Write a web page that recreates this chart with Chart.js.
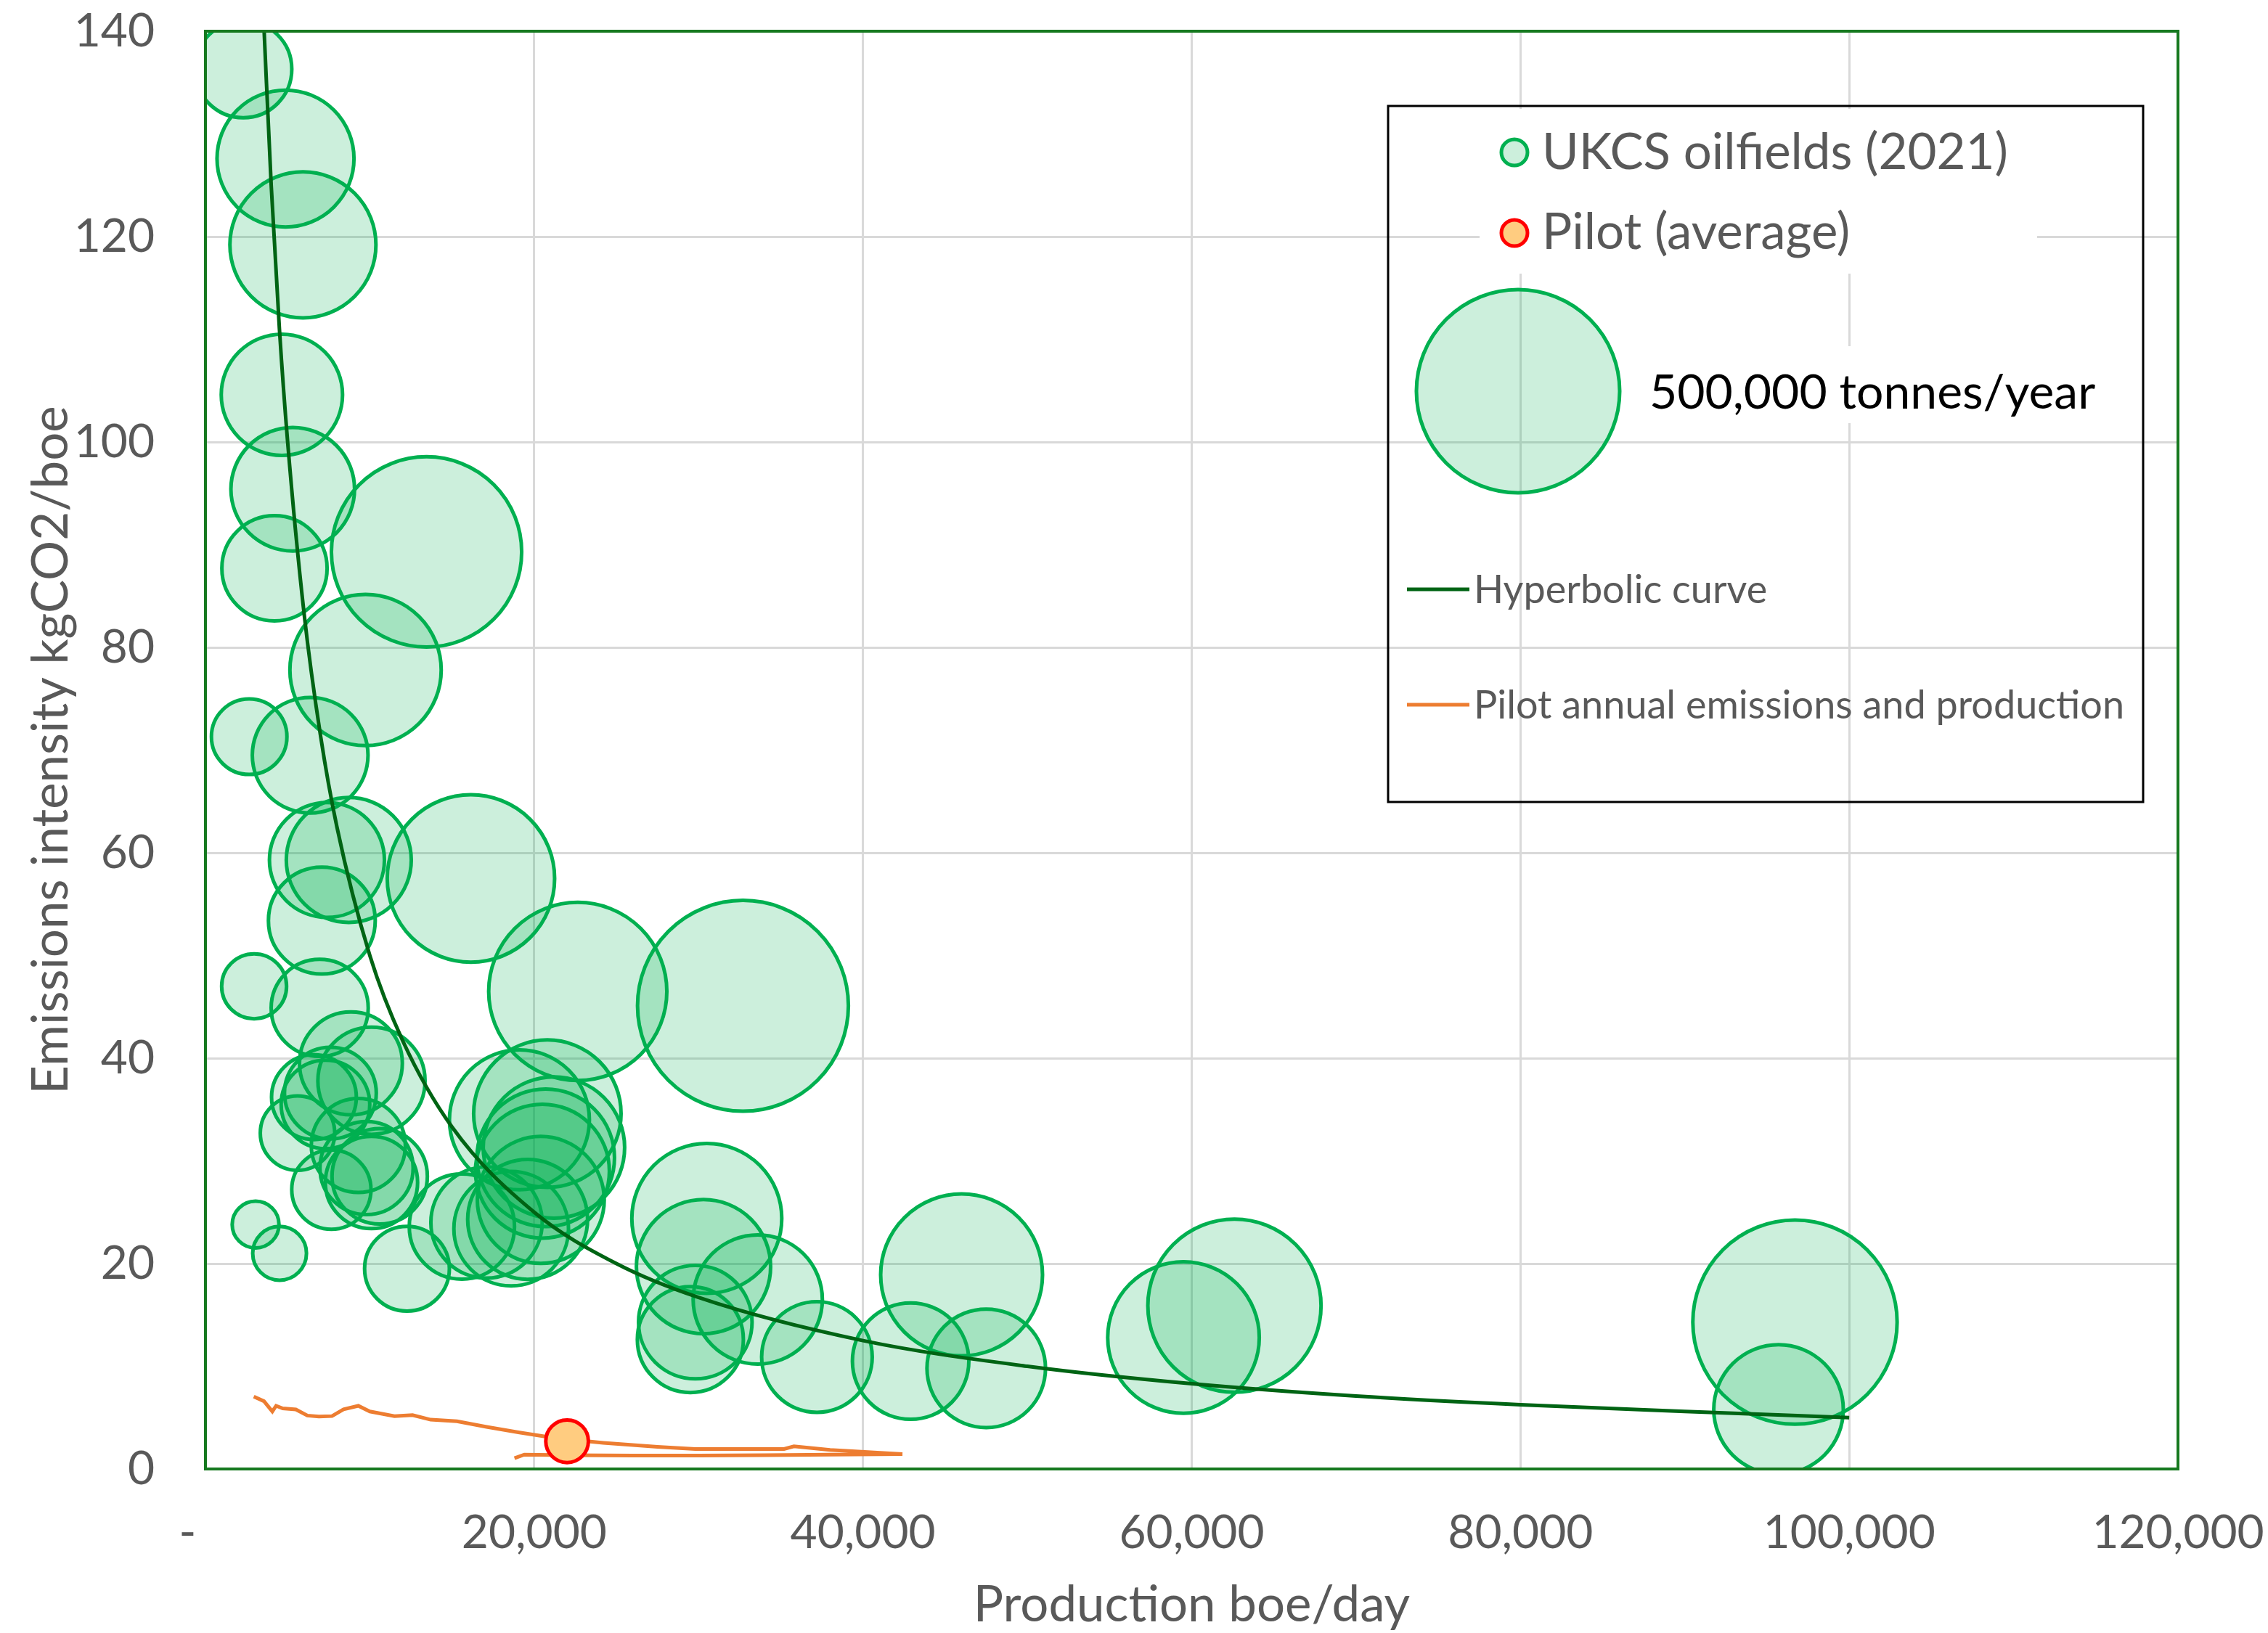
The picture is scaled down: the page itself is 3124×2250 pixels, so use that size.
<!DOCTYPE html>
<html>
<head>
<meta charset="utf-8">
<script src="https://cdn.jsdelivr.net/npm/chart.js@4.4.1/dist/chart.umd.min.js"></script>
<style>
html, body { margin: 0; padding: 0; background: #fff; }
#wrap { width: 3124px; height: 2250px; }
</style>
</head>
<body>
<div id="wrap"><canvas id="bubbleChart" width="3124" height="2250"></canvas></div>
<script>
// UKCS oilfields 2021: production (boe/day), intensity (kgCO2/boe), emissions (kt CO2/yr, bubble size)
var fieldProduction = [2300, 4870, 5930, 4650, 5310, 4200, 13450, 9740, 2660, 6370,
    7390, 8720, 7080, 16150, 2960, 6950, 22650, 32700, 8850, 10100,
    6600, 7600, 7300, 5600, 9300, 9800, 10100, 7660, 10600, 3050,
    4510, 12260, 15600, 17100, 18600, 19600, 19100, 20800, 21200, 20700,
    20400, 20500, 30500, 30300, 29800, 29500, 33600, 37200, 42900, 46000,
    47500, 59500, 62600, 96700, 95700];
var fieldIntensity = [136.3, 127.6, 119.2, 104.6, 95.4, 87.7, 89.3, 77.8, 71.3, 69.5,
    59.3, 59.3, 53.4, 57.5, 47.0, 44.9, 46.5, 45.1, 39.5, 37.8,
    36.2, 36.6, 35.5, 32.7, 31.5, 29.3, 27.9, 27.2, 28.5, 23.8,
    21.0, 19.5, 23.6, 24.0, 23.4, 24.3, 34.0, 34.6, 31.3, 30.3,
    26.2, 29.0, 24.4, 19.7, 14.3, 12.6, 16.5, 10.9, 10.5, 18.9,
    9.8, 12.8, 15.9, 14.3, 5.8];
var fieldEmissions = [114, 227, 258, 178, 185, 134, 438, 277, 69, 162,
    160, 189, 138, 339, 51, 114, 384, 538, 128, 139,
    87, 102, 95, 67, 107, 105, 103, 76, 110, 26.5,
    35, 87, 134, 150, 159, 174, 237, 263, 242, 229,
    195, 217, 272, 218, 156, 136, 202, 148, 164, 317,
    170, 278, 363, 505, 203];

// Pilot average
var pilotAvgProduction = [22000];
var pilotAvgIntensity = [2.7];
var pilotAvgEmissions = [22];

// Pilot annual emissions and production path
var pilotProduction = [18800, 19400, 22000, 26000, 30000, 34000, 38000, 42400, 38000, 35800,
    35200, 32000, 29800, 27500, 24200, 21300, 19100, 17100, 15300, 13700,
    12600, 11500, 10000, 9300, 8400, 7700, 6900, 6200, 5500, 4700,
    4300, 4070, 3560, 2940];
var pilotIntensity = [1.05, 1.4, 1.35, 1.3, 1.3, 1.35, 1.4, 1.45, 1.85, 2.2,
    1.95, 1.95, 1.95, 2.15, 2.55, 3.0, 3.55, 4.1, 4.65, 4.8,
    5.25, 5.15, 5.6, 6.15, 5.8, 5.15, 5.1, 5.2, 5.8, 5.9,
    6.15, 5.6, 6.6, 7.05];

// Hyperbolic curve
var curveProduction = [3570, 4000, 4500, 5000, 6000, 7000, 8000, 10000, 12000, 15000,
    20000, 25000, 30000, 40000, 50000, 60000, 70000, 80000, 90000, 100000];
var curveIntensity = [140, 125, 111, 100, 83.3, 71.4, 62.5, 50, 41.7, 33.3,
    25, 20, 16.7, 12.5, 10, 8.3, 7.1, 6.25, 5.6, 5];

var xTicks = [0, 20000, 40000, 60000, 80000, 100000, 120000];
var yTicks = [0, 20, 40, 60, 80, 100, 120, 140];

var legendBubbleKt = 500;

function bubbleRadius(kt) {
    return 140 * Math.sqrt(kt / legendBubbleKt);
}

function toBubbles(xs, ys, ks) {
    return xs.map(function (x, i) { return { x: x, y: ys[i], r: bubbleRadius(ks[i]) }; });
}

function toPoints(xs, ys) {
    return xs.map(function (x, i) { return { x: x, y: ys[i] }; });
}

var grey = '#595959';
var font = 'Lato';

var plotBorder = {
    id: 'plotBorder',
    afterDatasetsDraw: function (chart) {
        var a = chart.chartArea, ctx = chart.ctx;
        ctx.save();
        ctx.strokeStyle = '#16791f';
        ctx.lineWidth = 4;
        ctx.strokeRect(a.left, a.top, a.right - a.left, a.bottom - a.top);
        ctx.restore();
    }
};

var boxLegend = {
    id: 'boxLegend',
    afterDraw: function (chart) {
        var ctx = chart.ctx;
        ctx.save();
        // white patches behind the upper entries
        ctx.fillStyle = '#ffffff';
        ctx.fillRect(2038, 150, 768, 227);
        ctx.fillRect(2262, 477, 640, 106);

        ctx.strokeStyle = '#000000';
        ctx.lineWidth = 3;
        ctx.strokeRect(1912, 146, 1040, 959);

        // markers
        ctx.lineWidth = 5;
        ctx.beginPath();
        ctx.arc(2086, 210, 18, 0, Math.PI * 2);
        ctx.fillStyle = 'rgba(0,176,80,0.2)';
        ctx.fill();
        ctx.strokeStyle = '#00b050';
        ctx.stroke();

        ctx.beginPath();
        ctx.arc(2086, 321, 18, 0, Math.PI * 2);
        ctx.fillStyle = '#ffcc80';
        ctx.fill();
        ctx.strokeStyle = '#ff0000';
        ctx.stroke();

        ctx.beginPath();
        ctx.arc(2091, 539, bubbleRadius(legendBubbleKt), 0, Math.PI * 2);
        ctx.fillStyle = 'rgba(0,176,80,0.2)';
        ctx.fill();
        ctx.strokeStyle = '#00b050';
        ctx.stroke();

        ctx.textBaseline = 'alphabetic';
        ctx.textAlign = 'left';
        ctx.fillStyle = grey;
        ctx.font = '69px ' + font;
        ctx.fillText('UKCS oilfields (2021)', 2124, 233);
        ctx.fillText('Pilot (average)', 2124, 343);
        ctx.fillStyle = '#000000';
        ctx.font = '66px ' + font;
        ctx.fillText('500,000 tonnes/year', 2272, 563);

        // line entries
        ctx.lineWidth = 5;
        ctx.strokeStyle = '#006414';
        ctx.beginPath();
        ctx.moveTo(1938, 812);
        ctx.lineTo(2024, 812);
        ctx.stroke();
        ctx.strokeStyle = '#ed7d31';
        ctx.beginPath();
        ctx.moveTo(1938, 971);
        ctx.lineTo(2024, 971);
        ctx.stroke();

        ctx.fillStyle = grey;
        ctx.font = '54px ' + font;
        ctx.fillText('Hyperbolic curve', 2030, 831);
        ctx.fillText('Pilot annual emissions and production', 2030, 990);
        ctx.restore();
    }
};

var ctx = document.getElementById('bubbleChart').getContext('2d');
var myChart = new Chart(ctx, {
    type: 'bubble',
    data: {
        datasets: [{
            type: 'bubble',
            label: 'UKCS oilfields (2021)',
            data: toBubbles(fieldProduction, fieldIntensity, fieldEmissions),
            backgroundColor: 'rgba(0,176,80,0.2)',
            borderColor: '#00b050',
            borderWidth: 5,
            hoverBorderWidth: 5,
            clip: 0,
            order: 3
        }, {
            type: 'line',
            label: 'Hyperbolic curve',
            data: toPoints(curveProduction, curveIntensity),
            borderColor: '#006414',
            borderWidth: 5,
            pointRadius: 0,
            cubicInterpolationMode: 'monotone',
            fill: false,
            clip: 0,
            order: 2
        }, {
            type: 'line',
            label: 'Pilot annual emissions and production',
            data: toPoints(pilotProduction, pilotIntensity),
            borderColor: '#ed7d31',
            borderWidth: 5,
            pointRadius: 0,
            tension: 0,
            fill: false,
            order: 1
        }, {
            type: 'bubble',
            label: 'Pilot (average)',
            data: toBubbles(pilotAvgProduction, pilotAvgIntensity, pilotAvgEmissions),
            backgroundColor: '#ffcc80',
            borderColor: '#ff0000',
            borderWidth: 5,
            order: 0
        }]
    },
    options: {
        responsive: false,
        animation: false,
        devicePixelRatio: 1,
        layout: { autoPadding: false, padding: { top: 43, right: 124, bottom: 0, left: 0 } },
        plugins: {
            legend: { display: false },
            tooltip: { enabled: false }
        },
        scales: {
            x: {
                type: 'linear',
                min: 0,
                max: 120000,
                afterBuildTicks: function (axis) {
                    axis.ticks = xTicks.map(function (v) { return { value: v }; });
                },
                afterFit: function (axis) {
                    axis.height = 226;
                    axis.paddingLeft = 0;
                    axis.paddingRight = 0;
                },
                ticks: {
                    autoSkip: false,
                    maxRotation: 0,
                    padding: 50,
                    color: grey,
                    font: { family: font, size: 64 },
                    callback: function (v) { return v === 0 ? '-   ' : v.toLocaleString('en-US'); }
                },
                grid: { color: '#d9d9d9', lineWidth: 3, drawTicks: false },
                border: { display: false },
                title: {
                    display: true,
                    text: 'Production boe/day',
                    color: grey,
                    font: { family: font, size: 69, lineHeight: 1.1 },
                    padding: { top: 0, bottom: 0 }
                }
            },
            y: {
                type: 'linear',
                min: 0,
                max: 140,
                afterBuildTicks: function (axis) {
                    axis.ticks = yTicks.map(function (v) { return { value: v }; });
                },
                afterFit: function (axis) {
                    axis.width = 283;
                    axis.paddingTop = 0;
                    axis.paddingBottom = 0;
                },
                ticks: {
                    padding: 70,
                    color: grey,
                    font: { family: font, size: 64 }
                },
                grid: { color: '#d9d9d9', lineWidth: 3, drawTicks: false },
                border: { display: false },
                title: {
                    display: true,
                    text: 'Emissions intensity kgCO2/boe',
                    color: grey,
                    font: { family: font, size: 69, lineHeight: 1.2 },
                    padding: { top: 29, bottom: 0 }
                }
            }
        }
    },
    plugins: [plotBorder, boxLegend]
});
</script>
</body>
</html>
